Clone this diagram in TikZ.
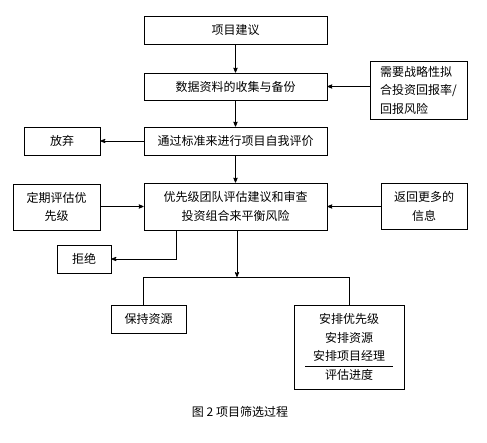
\documentclass[tikz,border=0pt]{standalone}
\usepackage{fontspec}
\setmainfont{Noto Sans CJK SC}
\usetikzlibrary{positioning}
\usetikzlibrary{arrows}
\tikzset{box/.style={rectangle,draw,line width=0.8pt,inner sep=2pt,align=center,font=\fontsize{12}{18.5}\selectfont},}

\begin{document}
\begin{tikzpicture}[x=1pt, y=-1pt, >=stealth', line width=0.8pt]
		\useasboundingbox (0,0) rectangle (487,442);
		\node[box, minimum width=183pt, minimum height=28pt] (idea) at (235.5,30) {项目建议};
	    \node[box, minimum width=183pt, minimum height=27pt] (data) at (235.5,86.5) {数据资料的收集与备份};
	    \node[box, minimum width=97pt, minimum height=58pt, align=left] (need) at (418.5,90) {需要战略性拟\\合投资回报率/\\回报风险};
	    \node[box, minimum width=183pt, minimum height=28pt] (eval) at (235.5,141) {通过标准来进行项目自我评价};
	    \node[box, minimum width=76pt, minimum height=28pt] (quit) at (62,141) {放弃};
	    \node[box, minimum width=183pt, minimum height=47pt] (prio) at (235.5,206.5) {优先级团队评估建议和审查\\投资组合来平衡风险};
	    \node[box, minimum width=87pt, minimum height=46pt] (regular) at (56.5,207) {定期评估优\\先级};
	    \node[box, minimum width=86pt, minimum height=46pt] (more) at (424,206.5) {返回更多的\\信息};
	    \node[box, minimum width=54pt, minimum height=28pt] (reject) at (84,259) {拒绝};
	    \node[box, minimum width=75pt, minimum height=28pt] (keep) at (148.5,319) {保持资源};
	    \node[box, minimum width=110pt, minimum height=84pt] (plan) at (349,347) {安排优先级\\安排资源\\安排项目经理\\评估进度};
	    \node[font=\fontsize{12}{14}\selectfont] (caption) at (240,412) {图 2~项目筛选过程};
	    \coordinate (split) at (237,277);
	    \coordinate (splitL) at (143,277);
	    \coordinate (splitR) at (349,277);
	
	    \path[draw,->]
	    (idea) edge (data)
	    (data) edge (eval)
	    (eval) edge (quit)
	    (eval) edge (prio);
	    \draw[->] (need.west |- data.east) -- (data.east);
	    \draw[->] (regular.east |- prio.east) -- (prio.west);
	    \draw[->] (more.west |- prio.east) -- (prio.east);
	    \draw[->] (split |- prio.south) -- (split);
	    \draw[->] ([xshift=-59.5pt]prio.south) |- (reject.east);
	    \draw (splitL) -- (splitR);
	    \draw (splitL) -- (splitL |- keep.north);
	    \draw (splitR) -- (plan.north);
	    \draw ([shift={(-44pt,-19pt)}]plan.center) -- ++(88pt,0pt);
\end{tikzpicture}
\end{document}
